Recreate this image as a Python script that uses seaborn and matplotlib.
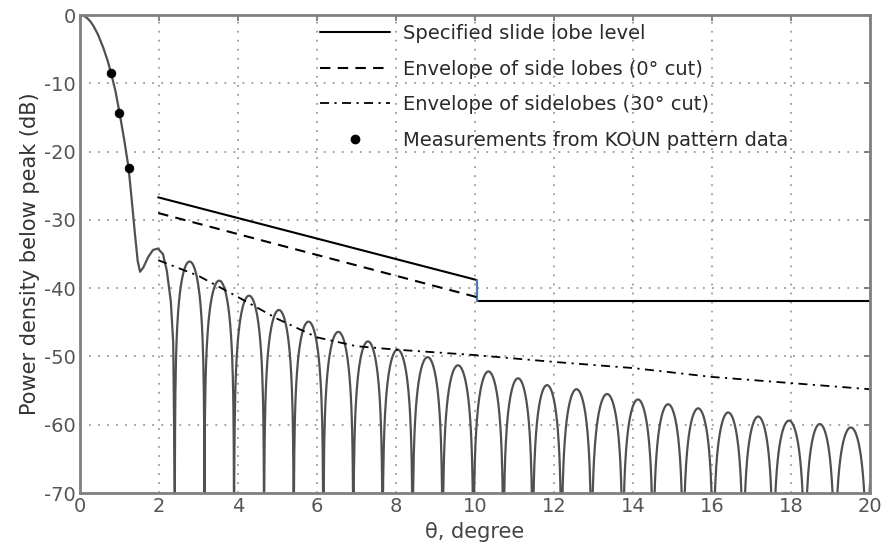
import numpy as np
import pandas as pd
import matplotlib
matplotlib.use("Agg")
import matplotlib.pyplot as plt
from matplotlib.lines import Line2D
import seaborn as sns

# ---- data ----
# main lobe and first side lobe (explicit points)
main_x = [0.0, 0.05, 0.1, 0.15, 0.2, 0.27, 0.34, 0.45, 0.59, 0.7, 0.785, 0.9, 1.0, 1.12, 1.23, 1.31,
          1.39, 1.46, 1.52, 1.6, 1.73, 1.85, 1.97, 2.1, 2.2, 2.3, 2.36, 2.40]
main_y = [0.0, -0.03, -0.14, -0.31, -0.55, -1.0, -1.6, -2.8, -4.8, -6.7, -8.45, -11.2, -14.3, -18.3, -22.4, -27.1,
          -32.0, -36.0, -37.6, -37.0, -35.4, -34.4, -34.2, -35.0, -37.5, -42.0, -48.0, -70.0]

# remaining side lobes: null positions and peak levels
null_x = [2.40, 3.15, 3.90, 4.66, 5.41, 6.16, 6.92, 7.66, 8.42, 9.18, 9.96, 10.72, 11.46,
          12.19, 12.95, 13.74, 14.51, 15.27, 16.03, 16.79, 17.55, 18.35, 19.11, 19.92, 20.68]
peak_db = [-36.1, -38.9, -41.1, -43.2, -44.9, -46.4, -47.8, -49.0, -50.1, -51.3, -52.2,
           -53.2, -54.2, -54.8, -55.5, -56.3, -57.0, -57.6, -58.2, -58.8, -59.4, -59.9,
           -60.4, -61.0]

# measurement dots
meas_x = [0.785, 0.995, 1.23]
meas_y = [-8.45, -14.3, -22.4]

# specified side lobe level
spec_x = [1.98, 10.04]
spec_y = [-26.7, -38.8]
spec_step_x = [10.04, 10.04]
spec_step_y = [-38.8, -41.9]
spec_flat_x = [10.04, 20.0]
spec_flat_y = [-41.9, -41.9]

# envelope 0 deg cut
env0_x = [1.98, 10.04]
env0_y = [-29.0, -41.3]

# envelope 30 deg cut
env30_x = [1.98, 3.0, 4.0, 5.0, 6.0, 7.0, 8.0, 10.0, 12.0, 14.0, 16.0, 18.0, 20.0]
env30_y = [-35.9, -38.2, -41.3, -44.5, -47.2, -48.5, -49.0, -49.8, -50.8, -51.7, -53.0, -53.9, -54.8]

labels = ["Specified slide lobe level",
          "Envelope of side lobes (0\u00b0 cut)",
          "Envelope of sidelobes (30\u00b0 cut)",
          "Measurements from KOUN pattern data"]

# ---- build the pattern curve (lobe arches between the read nulls) ----
xs, ys = list(main_x), list(main_y)
for a, b, p in zip(null_x[:-1], null_x[1:], peak_db):
    t = np.linspace(0, 1, 100)[1:]
    s = np.abs(np.sin(np.pi * t))
    v = p + 16 * np.log10(np.maximum(s, 1e-6))
    xs.extend(a + (b - a) * t)
    ys.extend(np.maximum(v, -75))
pattern = pd.DataFrame({"x": xs, "y": ys})

# ---- plot ----
sns.set_theme(style="white")
plt.rcParams['font.family'] = ['DejaVu Sans']
plt.rcParams['axes.unicode_minus'] = False
fig, ax = plt.subplots(figsize=(8.85, 5.5), dpi=100)
fig.subplots_adjust(left=0.0904, right=0.983, top=0.9727, bottom=0.1036)

curve_c = "#505050"
sns.lineplot(data=pattern, x="x", y="y", sort=False, estimator=None, ax=ax,
             color=curve_c, lw=1.6)
sns.lineplot(x=spec_x, y=spec_y, ax=ax, color="black", lw=1.5, estimator=None)
sns.lineplot(x=spec_flat_x, y=spec_flat_y, ax=ax, color="black", lw=1.5, estimator=None)
ax.plot(spec_step_x, spec_step_y, color="#4a7ebb", lw=1.6)
sns.lineplot(x=env0_x, y=env0_y, ax=ax, color="black", lw=1.5, estimator=None)
ax.lines[-1].set_dashes((5, 3.5))
sns.lineplot(x=env30_x, y=env30_y, ax=ax, color="black", lw=1.3, estimator=None)
ax.lines[-1].set_dashes((5, 3, 1.2, 3))
sns.scatterplot(x=meas_x, y=meas_y, ax=ax, color="black", s=40, edgecolor="black", zorder=5)

ax.set_xlim(0, 20)
ax.set_ylim(-70, 0)
ax.set_xticks(range(0, 21, 2))
ax.set_yticks(range(-70, 1, 10))
ax.grid(True, color="#9a9a9a", lw=1.3, linestyle=(0, (1, 4)))
for sp in ax.spines.values():
    sp.set_color("#808080")
    sp.set_linewidth(2)
ax.tick_params(direction="in", length=4, width=1.2, color="#707070",
               top=True, right=True, labelsize=14, labelcolor="#555555", pad=3)
ax.set_xlabel("\u03b8, degree", fontsize=15, color="#444444", labelpad=4)
ax.set_ylabel("Power density below peak (dB)", fontsize=15, color="#333333", labelpad=3)

handles = [Line2D([], [], color="black", lw=1.5),
           Line2D([], [], color="black", lw=1.5, dashes=(5, 3.5)),
           Line2D([], [], color="black", lw=1.3, dashes=(5, 3, 1.2, 3)),
           Line2D([], [], color="black", marker="o", ms=6, lw=0)]
leg = ax.legend(handles, labels, loc="upper left", bbox_to_anchor=(0.294, 0.997),
                frameon=False, fontsize=14, handlelength=3.6, handletextpad=0.65,
                labelspacing=0.85, borderaxespad=0)
for t in leg.get_texts():
    t.set_color("#2a2a2a")

fig.savefig("out.png", dpi=100)
